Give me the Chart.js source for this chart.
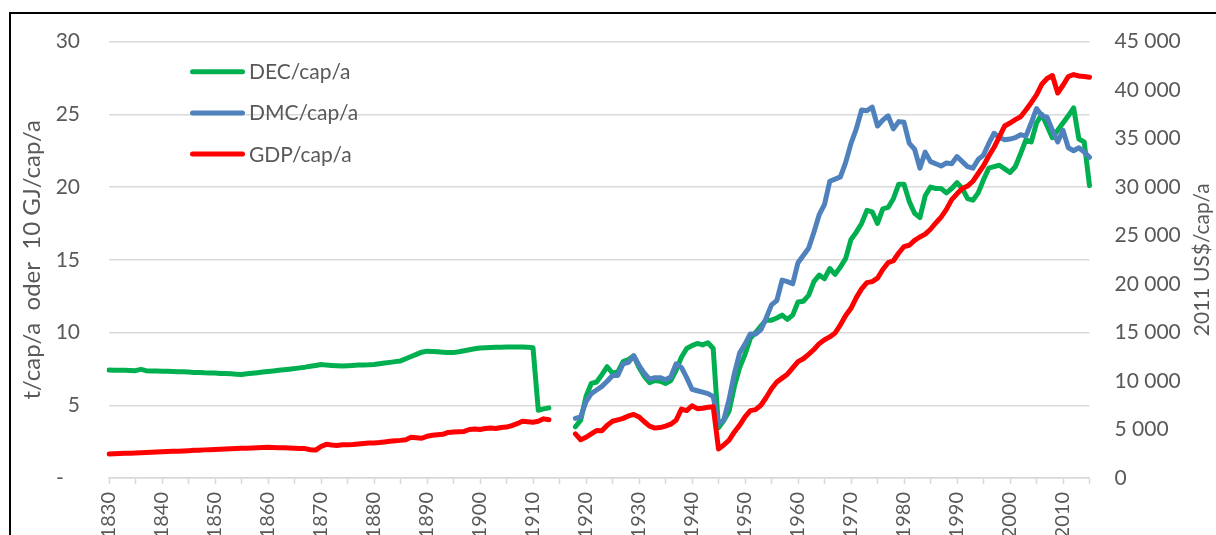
<!DOCTYPE html>
<html>
<head>
<meta charset="utf-8">
<script src="https://cdn.jsdelivr.net/npm/chart.js@4.4.1/dist/chart.umd.min.js"></script>
<style>
html,body{margin:0;padding:0;background:#fff;}
#wrap{position:relative;width:1216px;height:535px;overflow:hidden;background:#fff;}
#frame{position:absolute;left:9px;top:12px;width:1400px;height:800px;border-left:2px solid #000;border-top:2px solid #000;box-sizing:border-box;}
canvas{position:absolute;left:0;top:0;}
</style>
</head>
<body>
<div id="wrap"><div id="frame"></div><canvas id="c" width="1216" height="535"></canvas></div>
<script>
// ---- categories ----
const firstYear = 1830;
const lastYear = 2015;
const years = [];
for (let y = firstYear; y <= lastYear; y++) years.push(y);

const earlyStart = 1830;   // first segment 1830-1913
const modernStart = 1918;  // second segment 1918-2015 (gap 1914-1917)

// ---- DEC/cap/a (t/cap/a or 10 GJ/cap/a) ----
const decEarly = [
  7.42, 7.41, 7.40, 7.40, 7.39, 7.38, 7.47, 7.38, 7.36, 7.35,
  7.34, 7.33, 7.32, 7.31, 7.30, 7.28, 7.26, 7.25, 7.23, 7.22,
  7.21, 7.19, 7.18, 7.16, 7.14, 7.12, 7.16, 7.20, 7.24, 7.28,
  7.32, 7.36, 7.40, 7.44, 7.48, 7.52, 7.57, 7.62, 7.68, 7.74,
  7.80, 7.76, 7.74, 7.72, 7.70, 7.72, 7.74, 7.76, 7.77, 7.78,
  7.80, 7.85, 7.90, 7.95, 8.00, 8.05, 8.20, 8.35, 8.50, 8.65,
  8.72, 8.70, 8.68, 8.65, 8.62, 8.62, 8.68, 8.75, 8.82, 8.88,
  8.93, 8.95, 8.97, 8.98, 8.99, 9.00, 9.00, 9.00, 9.00, 8.99,
  8.95, 4.65, 4.75, 4.82
];
const decModern = [
  3.52, 3.98,
  5.6, 6.5, 6.6, 7.1, 7.65, 7.2, 7.3, 8.0, 8.15, 8.4,
  7.6, 7.0, 6.55, 6.7, 6.65, 6.5, 6.7, 7.4, 8.3, 8.9,
  9.1, 9.25, 9.15, 9.3, 8.9, 3.45, 3.95, 4.6, 6.3, 7.6,
  8.5, 9.6, 10.0, 10.45, 10.85, 10.85, 11.0, 11.2, 10.9, 11.2,
  12.1, 12.15, 12.55, 13.5, 13.95, 13.7, 14.4, 14.0, 14.5, 15.1,
  16.4, 16.9, 17.5, 18.4, 18.3, 17.5, 18.5, 18.6, 19.2, 20.2,
  20.2, 19.0, 18.2, 17.9, 19.4, 20.0, 19.9, 19.9, 19.6, 19.9,
  20.3, 19.9, 19.2, 19.1, 19.6, 20.5, 21.3, 21.4, 21.5, 21.25,
  21.0, 21.4, 22.3, 23.25, 23.1, 24.4, 25.0, 24.2, 23.4, 23.9,
  24.4, 24.9, 25.45, 23.3, 23.1, 20.1
];

// ---- DMC/cap/a (t/cap/a), from 1918 ----
const dmcModern = [
  4.1, 4.2,
  5.25, 5.8, 6.05, 6.3, 6.65, 7.05, 7.05, 7.85, 7.95, 8.4,
  7.75, 7.2, 6.8, 6.9, 6.9, 6.75, 6.95, 7.85, 7.6, 6.9,
  6.1, 6.0, 5.9, 5.8, 5.6, 3.7, 4.0, 5.4, 7.2, 8.6,
  9.2, 9.9, 9.9, 10.2, 11.0, 11.9, 12.2, 13.6, 13.5, 13.35,
  14.8, 15.3, 15.8, 16.9, 18.1, 18.8, 20.4, 20.55, 20.7, 21.7,
  23.0, 24.0, 25.3, 25.25, 25.5, 24.2, 24.6, 24.9, 24.0, 24.5,
  24.45, 23.0, 22.6, 21.3, 22.4, 21.75, 21.6, 21.45, 21.65, 21.6,
  22.1, 21.75, 21.4, 21.3, 21.9, 22.2, 23.0, 23.7, 23.4, 23.25,
  23.3, 23.4, 23.6, 23.5, 24.4, 25.4, 24.9, 24.8, 23.9, 23.1,
  23.9, 22.7, 22.5, 22.7, 22.4, 22.05
];

// ---- GDP/cap/a (2011 US$/cap/a) ----
const gdpEarly = [
  2480, 2500, 2520, 2540, 2560, 2580, 2600, 2620, 2650, 2680,
  2710, 2730, 2750, 2770, 2790, 2820, 2850, 2870, 2900, 2920,
  2950, 2970, 2990, 3010, 3030, 3060, 3080, 3100, 3120, 3140,
  3160, 3150, 3130, 3110, 3090, 3070, 3050, 3030, 2920, 2880,
  3250, 3470, 3400, 3350, 3420, 3420, 3450, 3500, 3560, 3600,
  3620, 3650, 3720, 3780, 3850, 3880, 3950, 4200, 4150, 4100,
  4300, 4400, 4450, 4500, 4700, 4750, 4780, 4800, 5000, 5050,
  5000, 5100, 5150, 5100, 5200, 5250, 5400, 5600, 5850, 5800,
  5750, 5850, 6100, 6000
];
const gdpModern = [
  4550, 3950,
  4200, 4550, 4900, 4880, 5450, 5850, 6000, 6150, 6400, 6550,
  6300, 5800, 5350, 5150, 5200, 5350, 5550, 5950, 7100, 6950,
  7450, 7150, 7200, 7300, 7350, 3000, 3400, 3900, 4750, 5450,
  6300, 6950, 7050, 7500, 8300, 9200, 9900, 10300, 10700, 11350,
  12000, 12300, 12750, 13250, 13850, 14250, 14550, 14950, 15800, 16750,
  17500, 18600, 19500, 20150, 20250, 20600, 21500, 22200, 22400, 23200,
  23850, 24000, 24500, 24850, 25150, 25650, 26300, 26900, 27700, 28700,
  29300, 29850, 30100, 30600, 31400, 32200, 33200, 34100, 35200, 36300,
  36600, 36950, 37250, 37950, 38700, 39500, 40600, 41200, 41500, 39700,
  40500, 41400, 41600, 41450, 41400, 41330
];

// ---- axis ticks ----
const leftTicks = [0, 5, 10, 15, 20, 25, 30];
const rightTicks = [0, 5000, 10000, 15000, 20000, 25000, 30000, 35000, 40000, 45000];

function alignToYears(early, modern) {
  return years.map(y => {
    if (early && y >= earlyStart && y < earlyStart + early.length) return early[y - earlyStart];
    if (y >= modernStart && y < modernStart + modern.length) return modern[y - modernStart];
    return null;
  });
}

const TXT = '#595959';
const FONT = 'Lato';

function fmtThousands(v) {
  return String(v).replace(/\B(?=(\d{3})+(?!\d))/g, ' ');
}

const decorPlugin = {
  id: 'decor',
  afterDraw(chart) {
    const ctx = chart.ctx;
    const area = chart.chartArea;
    const midY = (area.top + area.bottom) / 2;
    ctx.save();
    // legend
    chart.data.datasets.forEach((ds, i) => {
      const y = 71.7 + i * 41.2;
      ctx.strokeStyle = ds.borderColor;
      ctx.lineWidth = 5;
      ctx.lineCap = 'round';
      ctx.beginPath();
      ctx.moveTo(192.5, y);
      ctx.lineTo(242.5, y);
      ctx.stroke();
      ctx.fillStyle = TXT;
      ctx.font = '21px ' + FONT;
      ctx.textAlign = 'left';
      ctx.textBaseline = 'alphabetic';
      ctx.fillText(ds.label, 249, y + 7.5);
    });
    // axis titles
    ctx.fillStyle = TXT;
    ctx.textAlign = 'center';
    ctx.textBaseline = 'middle';
    ctx.save();
    ctx.font = '24px ' + FONT;
    ctx.translate(32, midY);
    ctx.rotate(-Math.PI / 2);
    ctx.fillText('t/cap/a  oder  10 GJ/cap/a', 0, 0);
    ctx.restore();
    ctx.save();
    ctx.font = '21px ' + FONT;
    ctx.translate(1202, midY);
    ctx.rotate(-Math.PI / 2);
    ctx.fillText('2011 US$/cap/a', 0, 0);
    ctx.restore();
    ctx.restore();
  }
};

new Chart(document.getElementById('c'), {
  type: 'line',
  data: {
    labels: years.map(String),
    datasets: [
      { label: 'DEC/cap/a', data: alignToYears(decEarly, decModern), borderColor: '#00B050', yAxisID: 'y', order: 3 },
      { label: 'DMC/cap/a', data: alignToYears(null, dmcModern), borderColor: '#4F81BD', yAxisID: 'y', order: 2 },
      { label: 'GDP/cap/a', data: alignToYears(gdpEarly, gdpModern), borderColor: '#FF0000', yAxisID: 'y1', order: 1 }
    ]
  },
  options: {
    responsive: false,
    animation: false,
    devicePixelRatio: 1,
    layout: { padding: { top: 38, left: 0, right: 0, bottom: 0 } },
    datasets: {
      line: {
        borderWidth: 5,
        pointRadius: 0,
        pointHoverRadius: 0,
        tension: 0,
        spanGaps: false,
        fill: false,
        borderJoinStyle: 'round',
        borderCapStyle: 'round'
      }
    },
    plugins: { legend: { display: false }, tooltip: { enabled: false } },
    scales: {
      x: {
        type: 'category',
        offset: false,
        grid: {
          display: true,
          drawOnChartArea: false,
          drawTicks: true,
          tickLength: 6,
          tickWidth: 1.5,
          tickColor: ctx => (years[ctx.index] % 5 === 0 ? '#D9D9D9' : 'rgba(0,0,0,0)')
        },
        border: { display: true, color: '#D9D9D9', width: 1.5 },
        ticks: {
          autoSkip: false,
          minRotation: 90,
          maxRotation: 90,
          padding: 8,
          color: TXT,
          font: { family: FONT, size: 20 },
          callback: (v, i) => (years[i] % 10 === 0 ? String(years[i]) : '')
        },
        afterFit: s => { s.height = 57; }
      },
      y: {
        position: 'left',
        min: leftTicks[0],
        max: leftTicks[leftTicks.length - 1],
        afterBuildTicks: s => { s.ticks = leftTicks.map(v => ({ value: v })); },
        ticks: {
          padding: 29,
          color: TXT,
          font: { family: FONT, size: 21 },
          callback: v => (v === 0 ? '-   ' : String(v))
        },
        grid: { color: '#D9D9D9', lineWidth: 1.5, drawTicks: false },
        border: { display: false },
        afterFit: s => { s.width = 109; }
      },
      y1: {
        position: 'right',
        min: rightTicks[0],
        max: rightTicks[rightTicks.length - 1],
        afterBuildTicks: s => { s.ticks = rightTicks.map(v => ({ value: v })); },
        ticks: {
          padding: 25,
          color: TXT,
          font: { family: FONT, size: 21 },
          callback: v => (v === 0 ? '0' : fmtThousands(v))
        },
        grid: { display: false, drawTicks: false },
        border: { display: false },
        afterFit: s => { s.width = 126.5; }
      }
    }
  },
  plugins: [decorPlugin]
});
</script>
</body>
</html>
